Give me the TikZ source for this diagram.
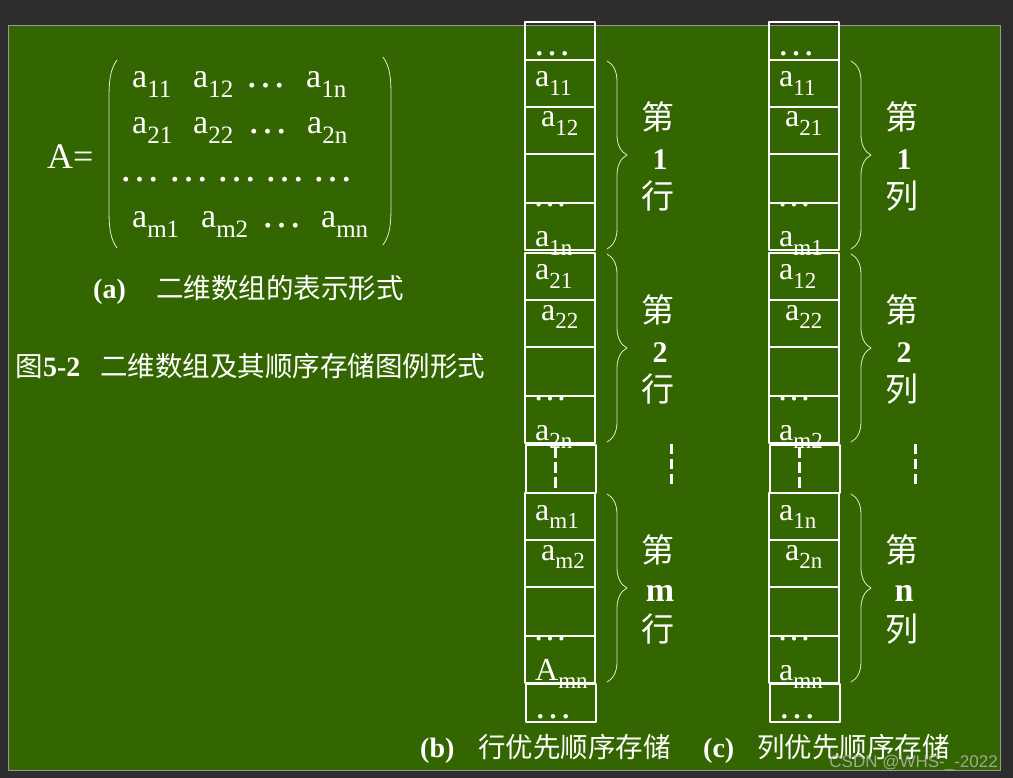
\documentclass[tikz,border=0pt]{standalone}
\usepackage{fontspec}
\setmainfont{Liberation Serif}
\setsansfont{Liberation Sans}
\newfontfamily\cjk{Noto Sans CJK SC}
\usetikzlibrary{decorations.pathreplacing}
\definecolor{board}{RGB}{51,102,0}
\definecolor{frame}{RGB}{45,45,45}
\newcommand{\fs}[1]{\fontsize{#1}{#1}\selectfont}
\newcommand{\elt}[3][23]{#2\raisebox{-.27em}{\fs{#1}#3}}
\begin{document}
\begin{tikzpicture}[x=1pt,y=-1pt, line join=round, line cap=round,
	every node/.style={text=white,inner sep=0pt},
	cell/.style={draw=white,line width=1.1pt},
	txt/.style={font=\fs{32},anchor=base west},
	mtx/.style={font=\fs{34},anchor=base west},
	hz/.style={font=\cjk\fs{33}},
	brc/.style={draw=white!85!board,line width=.8pt,decorate,decoration={brace,amplitude=20pt}},
	dsh/.style={draw=white,line width=3pt,line cap=butt,dash pattern=on 10pt off 5pt}]
	\useasboundingbox[fill=frame] (0,0) rectangle (1013,778);
	\draw[gray!80,fill=board] (8,25) rectangle (1000,770);
	% (a) matrix
	\node[font=\fs{36},anchor=base west] (A) at (47,169) {A=};
	\draw[white!85!board,line width=.8pt] (117,60) .. controls (110,70) and (109,80) .. (109,100) -- (109,208) .. controls (109,228) and (110,238) .. (117,248)
		(383,57) .. controls (390,67) and (391,77) .. (391,97) -- (391,205) .. controls (391,225) and (390,235) .. (383,245);
	\foreach \x/\y/\t in {132/88/11,193/88/12,306/88/1n,132/134/21,193/134/22,307/134/2n,132/228/m1,201/228/m2,321/228/mn}
		\node[mtx] (m\t) at (\x,\y) {\elt[25]{a}{\t}};
	\foreach \x/\y in {250/88,252/134,266/228,124/182,173/182,221/182,269/182,317/182}
		\node[mtx,font=\fs{41}] (d\x\y) at (\x-5,\y) {…};
	\node[font=\bfseries\fs{28},anchor=base west] (capa) at (93,299) {(a)};
	\node[font=\cjk\fs{27.5},anchor=base west] (capatxt) at (156,299) {二维数组的表示形式};
	\node[font=\cjk\fs{27.5},anchor=base west] (fig) at (15,377) {图};
	\node[font=\bfseries\fs{28},anchor=base west] (fignum) at (fig.base east) {5-2};
	\node[font=\cjk\fs{27.5},anchor=base west] (figtxt) at (100,377) {二维数组及其顺序存储图例形式};
	% (b) and (c) storage columns
	\foreach \x/\y/\p/\q/\r/\l in {525/60/11/12/1n/a, 525/253/21/22/2n/a, 525/493/m1/m2/mn/A, 769/60/11/21/m1/a, 769/253/12/22/m2/a, 769/493/1n/2n/mn/a}{
		\draw[cell] (\x,\y) rectangle ++(70,190);
		\node[txt,font=\fs{34}] (e\x\y) at (\x+8,\y+147) {…};
		\foreach \d in {47,94,143}\draw[cell] (\x,\y+\d) -- ++(70,0);
		\node[txt] (p\x\y) at (\x+10,\y+27) {\elt{a}{\p}};
		\node[txt] (q\x\y) at (\x+16,\y+67) {\elt{a}{\q}};
		\node[txt] (r\x\y) at (\x+10,\y+187) {\elt{\l}{\r}};
		\draw[brc] (\x+82,\y+1) -- (\x+82,\y+189);
	}
	\foreach \x in {525,769}{
		\draw[cell] (\x,22) rectangle ++(70,38) (\x+1,445) rectangle ++(70,48) (\x+1,684) rectangle ++(70,38);
		\node[txt,font=\fs{38}] (top\x) at (\x+8,56) {…};
		\node[txt,font=\fs{38}] (bot\x) at (\x+9,718) {…};
		\draw[dsh,dash pattern=on 11pt off 4pt] (\x+30,447) -- (\x+30,493);
		\draw[dsh] (\x+146,444) -- (\x+146,486);
	}
	\foreach \x/\w/\l in {658/行/m,902/列/n}
		\foreach \y/\n/\s in {60/1/30,253/2/30,493/\l/34}{
			\node[hz] (k\x\y) at (\x,\y+57) {第};
			\node[font=\bfseries\fs{\s}] (n\x\y) at (\x+2,\y+100) {\n};
			\node[hz] (w\x\y) at (\x,\y+136) {\w};
		}
	\node[font=\bfseries\fs{28},anchor=base west] (capb) at (420,757) {(b)};
	\node[font=\cjk\fs{27.5},anchor=base west] (capbtxt) at (478,757) {行优先顺序存储};
	\node[font=\bfseries\fs{28},anchor=base west] (capc) at (703,757) {(c)};
	\node[font=\cjk\fs{27.5},anchor=base west] (capctxt) at (757,757) {列优先顺序存储};
	\node[font=\sffamily\fs{17},text=gray!60,opacity=.85,anchor=base east] (mark) at (998,767) {CSDN @WHS-\_-2022};
\end{tikzpicture}
\end{document}
